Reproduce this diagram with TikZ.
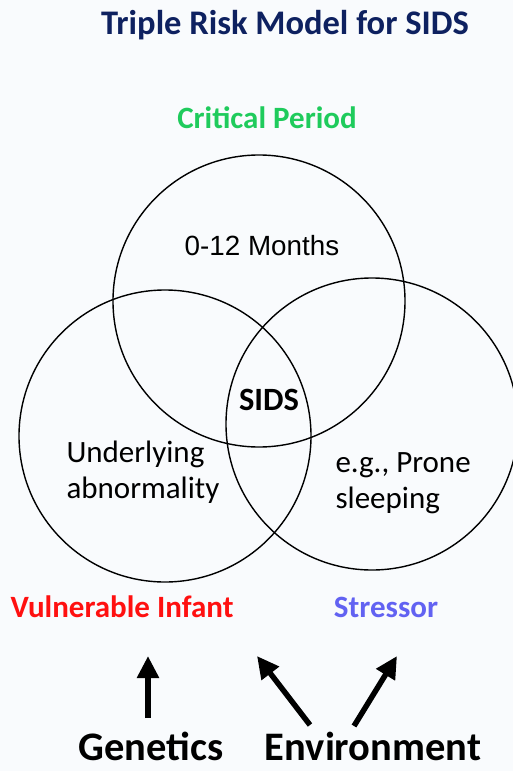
\documentclass[tikz,border=0pt]{standalone}
\usepackage{fontspec}
\setmainfont{Carlito}
\newfontfamily\arialfont{Liberation Sans}
\usetikzlibrary{arrows.meta}
\definecolor{paper}{HTML}{F9FBFD}
\definecolor{navy}{HTML}{0E2160}
\definecolor{critgreen}{HTML}{1FCB5C}
\definecolor{infantred}{HTML}{FF1010}
\definecolor{stressblue}{HTML}{6262F2}
\tikzset{
  ring/.style={circle,draw=black,line width=1.4pt,minimum size=292pt,inner sep=0pt},
  heading/.style={anchor=base,font=\bfseries\fontsize{34.5}{38}\selectfont},
  riskname/.style={anchor=base,font=\bfseries\fontsize{31}{34}\selectfont},
  inner/.style={anchor=base west,align=left,font=\fontsize{31}{36}\selectfont},
  cause/.style={anchor=base,font=\bfseries\fontsize{40.5}{44}\selectfont},
  push/.style={-{Triangle[length=22pt,width=21pt]},line width=5.5pt},
}

\begin{document}
\begin{tikzpicture}[x=1pt,y=-1pt]
  \useasboundingbox (0,0) rectangle (513,771);
  \fill[paper] (0,0) rectangle (513,771);
  \clip (0,0) rectangle (513,771);

  \node[heading,text=navy] (title) at (285,34) {Triple Risk Model for SIDS};
  \node[riskname,text=critgreen] (crit) at (267,128) {Critical Period};

  % the three risks
  \node[ring] (period) at (259,301) {};
  \node[ring] (infant) at (165,436) {};
  \node[ring] (stress) at (372,424) {};

  \node[anchor=base,font=\arialfont\fontsize{27.8}{30}\selectfont] (months) at (262,255) {0-12 Months};
  \node[riskname,font=\bfseries\fontsize{32.5}{34}\selectfont] (sids) at (269,410) {SIDS};
  % base anchor sits on the last line
  \node[inner] (abnorm) at (63,498) {Underlying\\abnormality};
  \node[inner] (prone) at (332,508) {e.g., Prone\\sleeping};

  \node[riskname,text=infantred] (vuln) at (122,617) {Vulnerable Infant};
  \node[riskname,text=stressblue] (stressor) at (386,617) {Stressor};

  \node[cause] (gen) at (151,760) {Genetics};
  \node[cause] (env) at (373,760) {Environment};

  \coordinate (genTail) at (148,718);
  \coordinate (genTip) at (148,656);
  \coordinate (envTailL) at (310,725);
  \coordinate (envTipL) at (257,656);
  \coordinate (envTailR) at (354,726);
  \coordinate (envTipR) at (397,656);
  \draw[push] (genTail) -- (genTip);
  \draw[push] (envTailL) -- (envTipL);
  \draw[push] (envTailR) -- (envTipR);
\end{tikzpicture}
\end{document}
